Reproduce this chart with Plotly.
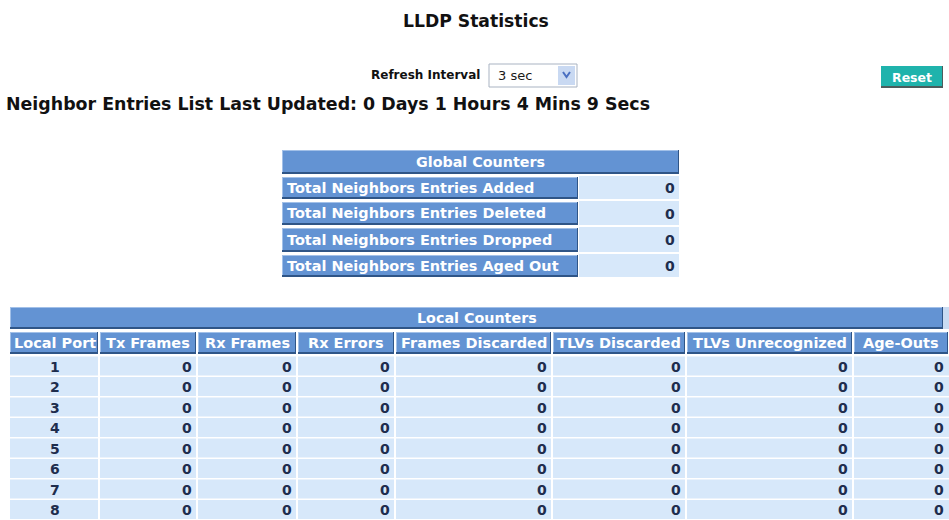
import plotly.graph_objects as go

# ---------------- data ----------------
page_title = "LLDP Statistics"
refresh_label = "Refresh Interval"
refresh_value = "3 sec"
button_label = "Reset"
uptime_units = ["Days", "Hours", "Mins", "Secs"]
uptime_values = [0, 1, 4, 9]

global_title = "Global Counters"
global_labels = [
    "Total Neighbors Entries Added",
    "Total Neighbors Entries Deleted",
    "Total Neighbors Entries Dropped",
    "Total Neighbors Entries Aged Out",
]
global_values = [0, 0, 0, 0]

local_title = "Local Counters"
local_columns = ["Local Port", "Tx Frames", "Rx Frames", "Rx Errors",
                 "Frames Discarded", "TLVs Discarded", "TLVs Unrecognized", "Age-Outs"]
local_ports = [1, 2, 3, 4, 5, 6, 7, 8]
tx_frames = [0, 0, 0, 0, 0, 0, 0, 0]
rx_frames = [0, 0, 0, 0, 0, 0, 0, 0]
rx_errors = [0, 0, 0, 0, 0, 0, 0, 0]
frames_discarded = [0, 0, 0, 0, 0, 0, 0, 0]
tlvs_discarded = [0, 0, 0, 0, 0, 0, 0, 0]
tlvs_unrecognized = [0, 0, 0, 0, 0, 0, 0, 0]
age_outs = [0, 0, 0, 0, 0, 0, 0, 0]

# ---------------- layout / style ----------------
W, H = 949, 520
FONT = "DejaVu Sans"
HDR = "#6393d3"
HDR_DARK = "#2f5587"
HDR_LIGHT = "#a2c0e8"
CELL = "#d7e8fa"
VAL = "#1e2d4d"
TXT = "#111111"

shapes = []
annotations = []


def rect(x0, y0, x1, y1, fill, line_color=None, lw=0):
    shapes.append(dict(type="rect", xref="x", yref="y", x0=x0, y0=y0, x1=x1, y1=y1,
                       fillcolor=fill, line=dict(color=line_color or fill, width=lw),
                       layer="below"))


def hline(x0, x1, y, color, w):
    shapes.append(dict(type="line", xref="x", yref="y", x0=x0, x1=x1, y0=y, y1=y,
                       line=dict(color=color, width=w), layer="below"))


def vline(x, y0, y1, color, w):
    shapes.append(dict(type="line", xref="x", yref="y", x0=x, x1=x, y0=y0, y1=y1,
                       line=dict(color=color, width=w), layer="below"))


def header_cell(x0, y0, x1, y1):
    rect(x0, y0, x1, y1, HDR)
    hline(x0, x1, y0 + 0.5, HDR_LIGHT, 1)
    vline(x0 + 0.5, y0, y1, HDR_LIGHT, 1)
    hline(x0, x1, y1 - 1, HDR_DARK, 2)
    vline(x1 - 0.5, y0, y1, HDR_DARK, 1)


def text(x, y, s, size, color=TXT, bold=True, anchor="center"):
    annotations.append(dict(x=x, y=y, xref="x", yref="y", text=("<b>%s</b>" % s) if bold else s,
                            showarrow=False, xanchor=anchor, yanchor="middle",
                            font=dict(family=FONT, size=size, color=color)))


# title
text(476, 21, page_title, 17.2)

# refresh interval row
text(482, 75, refresh_label, 12, anchor="right")
dd_x0, dd_x1 = 489, 577
rect(dd_x0, 64, dd_x1, 87, "#ffffff", "#a9b3c2", 1)
rect(dd_x1 - 19, 66, dd_x1 - 2, 85, "#c9d9f2")
shapes.append(dict(type="path", xref="x", yref="y",
                   path="M %d,72 L %.1f,77 L %d,72" % (dd_x1 - 14, dd_x1 - 10.5, dd_x1 - 7),
                   line=dict(color="#4a6fc1", width=2)))
text(dd_x0 + 7, 75.5, refresh_value, 13, color="#1a1a1a", bold=False, anchor="left")

# reset button
rect(881, 66, 943, 88, "#1fb3ac")
hline(881, 943, 87, "#4d5c5c", 2)
vline(942.5, 66, 88, "#4d5c5c", 1)
text(912, 77, button_label, 12.5, color="#ffffff")

# last updated line
parts = " ".join("%d %s" % (v, u) for v, u in zip(uptime_values, uptime_units))
text(4, 104, "Neighbor Entries List Last Updated: " + parts, 17.4, anchor="left")

# ---------------- global counters ----------------
g_x0, g_xm, g_x1 = 282, 578, 679
header_cell(g_x0, 150, g_x1, 174)
text((g_x0 + g_x1) / 2, 161.5, global_title, 14.3, color="#ffffff")
g_rows = [(177, 199), (202, 225), (228, 252), (255, 277)]
for (y0, y1), lab, val in zip(g_rows, global_labels, global_values):
    header_cell(g_x0, y0, g_xm, y1)
    rect(g_xm + 1, y0 - 1, g_x1, y1, CELL)
    text(g_x0 + 3, (y0 + y1) / 2 - 0.5, lab, 14.45, color="#ffffff", anchor="left")
    text(g_x1 - 2, (y0 + y1) / 2, str(val), 14, color=VAL, anchor="right")

# ---------------- local counters ----------------
col_edges = [10, 99, 197, 297, 395, 552, 686, 853, 949]
header_cell(col_edges[0], 307, 943, 329)
rect(943, 307, W, 329, "#c9dbf2")
text((col_edges[0] + 943) / 2, 318, local_title, 14.3, color="#ffffff")
for i, name in enumerate(local_columns):
    x0, x1 = col_edges[i], col_edges[i + 1]
    header_cell(x0 + (1 if i else 0), 332, x1 - 1, 354)
    text((x0 + x1) / 2, 343, name, 14.5, color="#ffffff")

series = [local_ports, tx_frames, rx_frames, rx_errors, frames_discarded,
          tlvs_discarded, tlvs_unrecognized, age_outs]
row_top, row_pitch, row_h = 356.5, 20.5, 19
for r in range(len(local_ports)):
    y0 = row_top + r * row_pitch
    for c, col in enumerate(series):
        x0, x1 = col_edges[c], col_edges[c + 1]
        rect(x0 + (1 if c else 0), y0, x1 - (1 if c < len(series) - 1 else 0), y0 + row_h, CELL)
        if c == 0:
            text((x0 + x1) / 2, y0 + row_h / 2 + 0.5, str(col[r]), 14, color=VAL)
        else:
            text(x1 - 3, y0 + row_h / 2 + 0.5, str(col[r]), 14, color=VAL, anchor="right")

fig = go.Figure()
fig.update_layout(
    width=W, height=H, margin=dict(l=0, r=0, t=0, b=0),
    paper_bgcolor="#ffffff", plot_bgcolor="#ffffff",
    xaxis=dict(range=[0, W], visible=False, fixedrange=True),
    yaxis=dict(range=[H, 0], visible=False, fixedrange=True),
    shapes=shapes, annotations=annotations, showlegend=False,
)
fig.write_html(
    "out.html",
    config={"displayModeBar": False},
    post_script="document.body.style.margin='0px';document.body.style.overflow='hidden';",
)
